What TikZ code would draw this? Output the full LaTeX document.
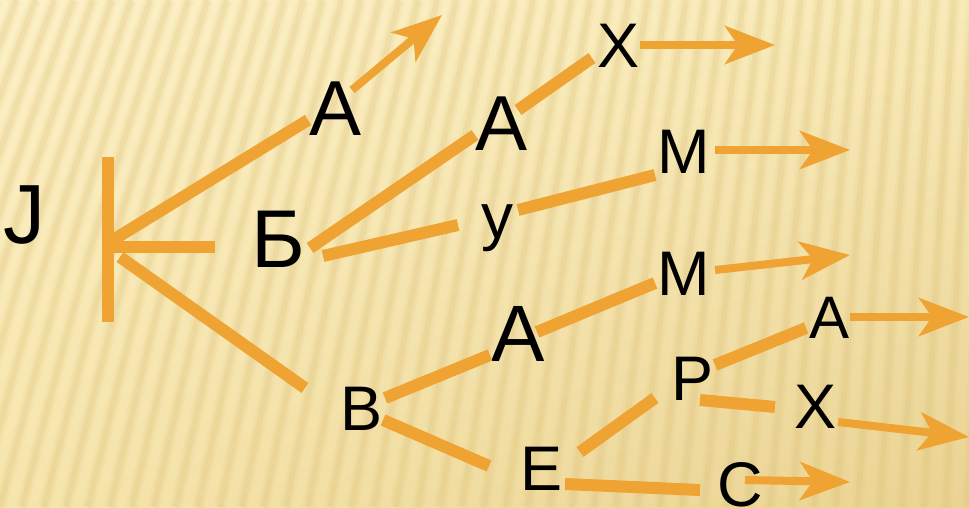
\documentclass[tikz,border=0pt]{standalone}
\usepackage{fontspec}
\setmainfont{Liberation Sans}
\usetikzlibrary{arrows.meta,calc,shadings}
\definecolor{orng}{HTML}{EFA332}
\definecolor{bgtl}{HTML}{FCF0C6}
\definecolor{bgtr}{HTML}{F8EAB8}
\definecolor{bgbl}{HTML}{F6E5AC}
\definecolor{bgbr}{HTML}{EAD393}
\definecolor{stripec}{HTML}{DCC077}
\tikzset{
  conn/.style={draw=orng,line width=12pt,line cap=butt},
  arr/.style={draw=orng,line width=8pt,-{Stealth[length=50pt,width=38pt,inset=13pt]}},
  lbl/.style={inner sep=0pt,text=black},
  big/.style={lbl,font=\fontsize{80}{80}\selectfont},
  mid/.style={lbl,font=\fontsize{63}{63}\selectfont},
  stripe/.style={stripec,line cap=butt}
}
\begin{document}
\begin{tikzpicture}[x=1pt,y=-1pt]
\useasboundingbox (0,0) rectangle (969,507);
\begin{scope}
\clip (0,0) rectangle (969,507);
\shade[upper left=bgtl, upper right=bgtr, lower left=bgbl, lower right=bgbr] (0,0) rectangle (969,507);
\foreach \i in {-8,...,48}{
  \pgfmathsetmacro{\xb}{\i*22}
  \pgfmathsetmacro{\sh}{max(15,150-0.13*\i*22)}
  \draw[stripe,line width=12pt,opacity=0.12] (\xb+\sh,0) .. controls (\xb+0.45*\sh,250) .. (\xb,507);
  \draw[stripe,line width=6pt,opacity=0.22] (\xb+\sh,0) .. controls (\xb+0.45*\sh,250) .. (\xb,507);
}
\end{scope}
% labels
\node[lbl,font=\fontsize{84}{84}\selectfont] (j) at (24,215) {J};
\node[big,font=\fontsize{78}{78}\selectfont] (a1) at (336,109) {А};
\node[big,font=\fontsize{82}{82}\selectfont] (b) at (278,239) {Б};
\node[big,font=\fontsize{78}{78}\selectfont] (a2) at (502,124) {А};
\node[mid] (x1) at (619,46) {Х};
\node[mid,font=\fontsize{64}{64}\selectfont] (y) at (497,228) {у};
\node[mid] (m1) at (684,152) {М};
\node[mid] (m2) at (684,274) {М};
\node[big] (a3) at (518,334) {А};
\node[mid] (v) at (362,409) {В};
\node[mid] (e) at (542,469) {Е};
\node[mid] (p) at (693,379) {Р};
\node[mid,font=\fontsize{60}{60}\selectfont] (a4) at (829,318) {А};
\node[mid] (x2) at (816,407) {Х};
\node[mid] (c) at (740,485) {С};
% root
\coordinate (root) at (108,247);
\draw[conn] ($(root)+(0,-90)$) -- ($(root)+(0,75)$);
\draw[conn] (root) -- ($(root)+(107,0)$);
\draw[conn] ($(root)+(5,-7)$) -- ($(a1)+(-28,11)$);
\draw[conn] ($(root)+(12,10)$) -- ($(v)+(-57,-21)$);
% connectors
\draw[conn] ($(b)+(32,9)$) -- ($(a2)+(-27,11)$);
\draw[conn] ($(b)+(45,17)$) -- ($(y)+(-39,-3)$);
\draw[conn] ($(a2)+(16,-14)$) -- ($(x1)+(-27,12)$);
\draw[conn] ($(y)+(21,-18)$) -- ($(m1)+(-29,23)$);
\draw[conn] ($(a3)+(19,-2)$) -- ($(m2)+(-29,9)$);
\draw[conn] ($(v)+(23,-11)$) -- ($(a3)+(-28,21)$);
\draw[conn] ($(v)+(21,11)$) -- ($(e)+(-53,-3)$);
\draw[conn] ($(e)+(38,-17)$) -- ($(p)+(-38,19)$);
\draw[conn] ($(p)+(22,-14)$) -- ($(a4)+(-23,10)$);
\draw[conn] ($(p)+(7,21)$) -- ($(x2)+(-41,0)$);
\draw[conn] ($(e)+(23,15)$) -- ($(c)+(-40,5)$);
% arrows
\coordinate (t1) at (442,15);
\coordinate (t2) at (775,45);
\coordinate (t3) at (850,150);
\coordinate (t4) at (850,255);
\coordinate (t5) at (969,317);
\coordinate (t6) at (969,437);
\coordinate (t7) at (850,482);
\draw[arr] ($(a1)+(16,-19)$) -- (t1);
\draw[arr] ($(x1)+(21,-1)$) -- (t2);
\draw[arr] ($(m1)+(31,-2)$) -- (t3);
\draw[arr] ($(m2)+(31,-4)$) -- (t4);
\draw[arr] ($(a4)+(21,-1)$) -- (t5);
\draw[arr] ($(x2)+(22,15)$) -- (t6);
\draw[arr] ($(c)+(5,-5)$) -- (t7);
\end{tikzpicture}
\end{document}
